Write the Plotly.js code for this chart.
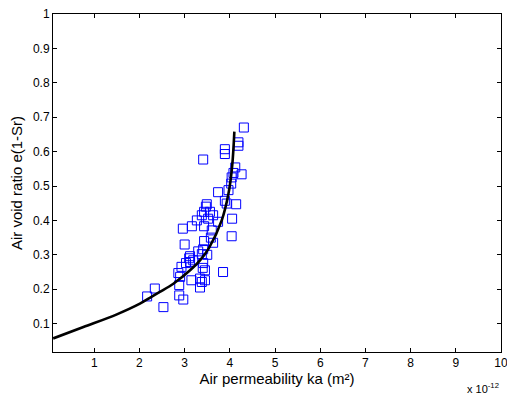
<!DOCTYPE html>
<html>
<head>
<meta charset="utf-8">
<script src="https://cdn.plot.ly/plotly-3.0.1.min.js"></script>
<style>html,body{margin:0;padding:0;background:#fff;}#chart{width:507px;height:395px;}</style>
</head>
<body>
<div id="chart"></div>
<script>
// Measured data: air permeability (x 1e-12 m²) vs air void ratio
const permX = [4.31,4.19,4.19,3.89,3.89,3.41,4.12,4.08,4.26,4.04,4.03,3.74,3.97,3.89,4.14,3.49,
  3.47,3.93,3.43,3.56,3.38,3.63,3.27,3.52,3.74,4.05,3.16,2.96,3.43,3.60,3.58,4.04,3.43,3.63,
  3.00,3.41,3.38,3.12,3.19,3.12,3.03,3.41,3.45,3.85,2.93,2.86,2.90,3.15,3.34,3.38,3.45,3.34,
  2.88,2.34,2.17,2.88,2.97,2.53,3.40,3.50,3.10,3.30];
const voidY = [0.670,0.627,0.617,0.607,0.593,0.577,0.554,0.538,0.534,0.525,0.507,0.482,0.488,0.457,0.447,0.447,
  0.440,0.449,0.425,0.425,0.415,0.415,0.400,0.405,0.396,0.405,0.383,0.376,0.383,0.371,0.350,0.354,0.340,0.335,
  0.330,0.316,0.302,0.296,0.284,0.279,0.276,0.276,0.255,0.250,0.265,0.247,0.236,0.226,0.231,0.221,0.226,0.205,
  0.212,0.202,0.179,0.182,0.170,0.148,0.262,0.300,0.290,0.310];
// Fitted curve
const fitX = [0.09,0.76,1.5,2.01,2.23,2.45,2.75,3.12,3.34,3.54,3.82,3.97,4.05,4.10];
const fitY = [0.057,0.090,0.127,0.158,0.175,0.192,0.216,0.255,0.284,0.320,0.40,0.478,0.556,0.658];
const xTicks = [1,2,3,4,5,6,7,8,9,10];
const yTicks = [0.1,0.2,0.3,0.4,0.5,0.6,0.7,0.8,0.9,1];
const yTickText = ['0.1','0.2','0.3','0.4','0.5','0.6','0.7','0.8','0.9','1'];

const traces = [
  {x: permX, y: voidY, type: 'scatter', mode: 'markers',
   marker: {symbol: 'square-open', size: 9, color: '#0000ff', line: {width: 1, color: '#0000ff'}},
   showlegend: false, cliponaxis: false},
  {x: fitX, y: fitY, type: 'scatter', mode: 'lines',
   line: {color: '#000000', width: 2.6, shape: 'spline'}, showlegend: false}
];
const FONT = 'Liberation Sans, Arial, sans-serif';
const axisCommon = {
  showgrid: false, zeroline: false, showline: true, linecolor: '#000', linewidth: 1,
  mirror: 'allticks', ticks: 'inside', ticklen: 4, tickwidth: 1, tickcolor: '#000',
  ticklabeloverflow: 'allow',
  tickfont: {family: FONT, size: 12, color: '#000'}
};
const layout = {
  width: 507, height: 395,
  margin: {l: 53, r: 6, t: 14, b: 43},
  paper_bgcolor: '#fff', plot_bgcolor: '#fff',
  font: {family: FONT, color: '#000'},
  xaxis: Object.assign({}, axisCommon, {
    range: [0.087, 10], tickvals: xTicks, ticktext: xTicks.map(String),
    title: {text: 'Air permeability ka (m²)', font: {size: 15, color: '#000'}, standoff: 4}
  }),
  yaxis: Object.assign({}, axisCommon, {
    range: [0.0175, 1], tickvals: yTicks, ticktext: yTickText,
    title: {text: 'Air void ratio e(1-Sr)', font: {size: 15, color: '#000'}, standoff: 6}
  }),
  annotations: [{
    xref: 'paper', yref: 'paper', x: 1.0, y: -0.08, xanchor: 'right', yanchor: 'top',
    text: 'x 10<sup>-12</sup>', showarrow: false,
    font: {family: FONT, size: 11, color: '#000'}
  }]
};
Plotly.newPlot('chart', traces, layout, {staticPlot: true, displayModeBar: false});
</script>
</body>
</html>
